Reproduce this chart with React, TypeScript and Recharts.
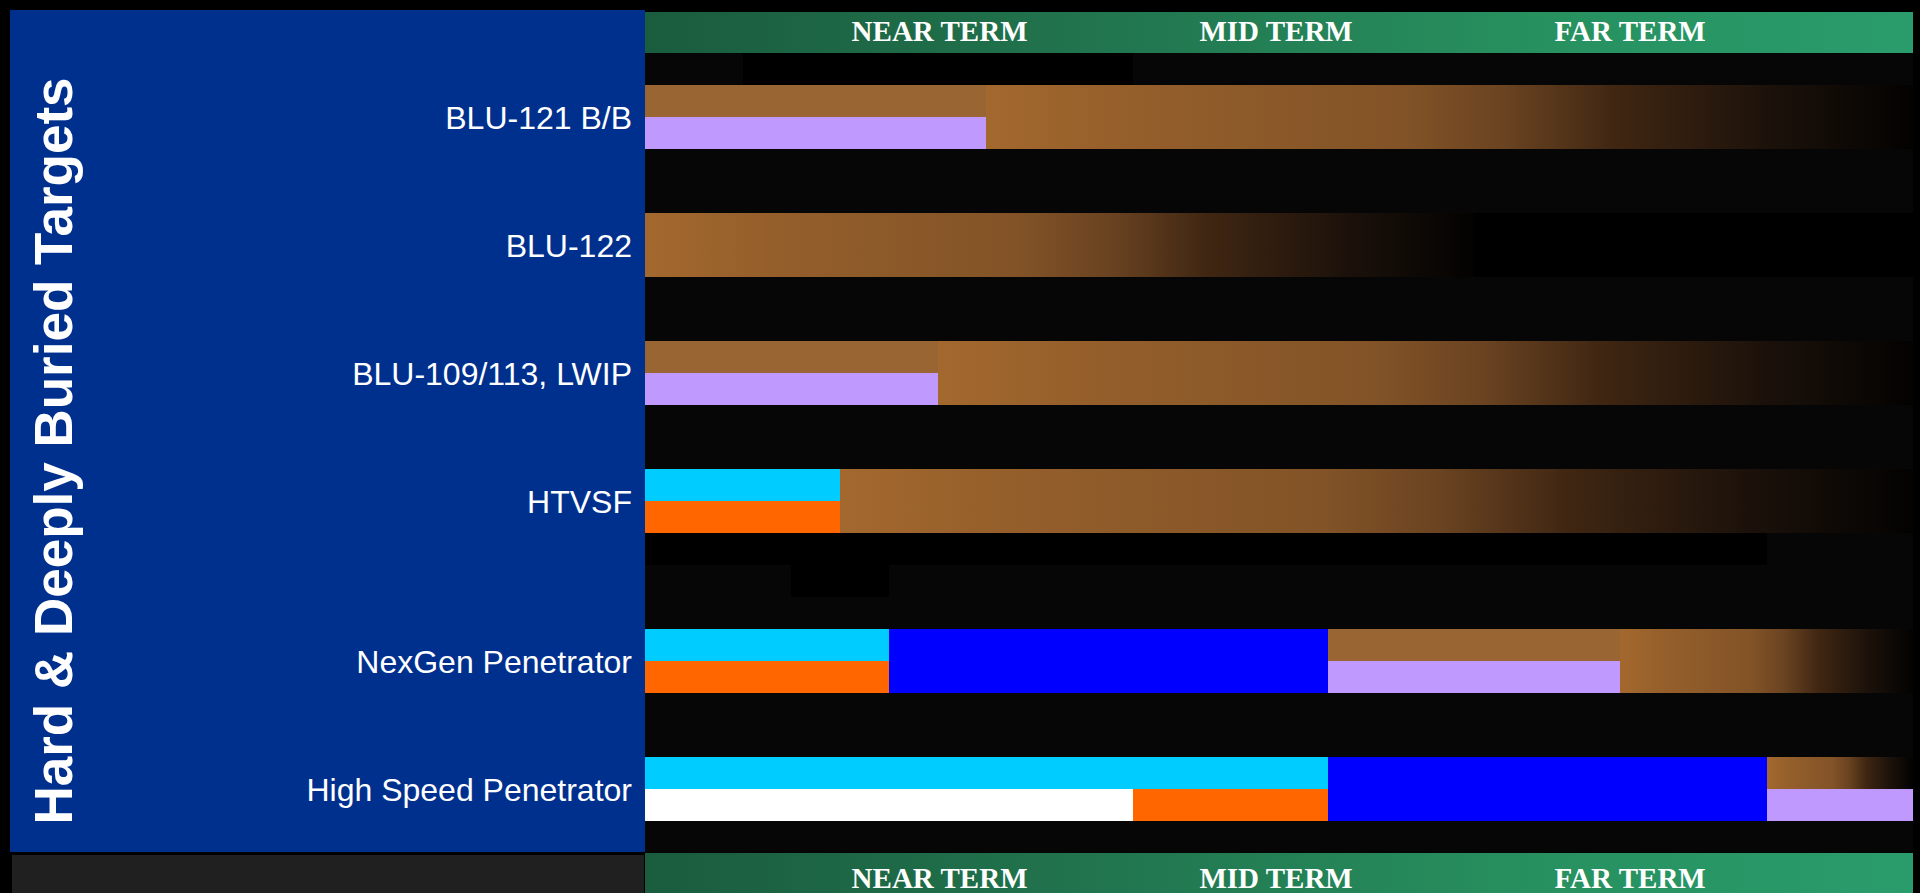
import React from "react"
import { BarChart, Bar, XAxis, YAxis, Cell } from "recharts"

// programs, one per row (each row uses two 32px lanes)
const programs = ["BLU-121 B/B", "BLU-122", "BLU-109/113, LWIP", "HTVSF", "NexGen Penetrator", "High Speed Penetrator"]
const programLanes = [1, 5, 9, 13, 18, 22]

const termLabels = ["NEAR TERM", "MID TERM", "FAR TERM"]
const termCenters = [6.04, 12.94, 20.2]

const laneCount = 25
const spanUnits = 26 // half-year steps across the timeline

type Seg = [string, number]

// segments per lane: [status, length]
const headerGhost: Seg[] = [["none", 2], ["black", 8]]
const blu121Top: Seg[] = [["brown", 7], ["fade", 19]]
const blu121Bottom: Seg[] = [["lavender", 7], ["fade", 19]]
const blu122Top: Seg[] = [["fade", 17], ["black", 9]]
const blu122Bottom: Seg[] = [["fade", 17], ["black", 9]]
const blu109Top: Seg[] = [["brown", 6], ["fade", 20]]
const blu109Bottom: Seg[] = [["lavender", 6], ["fade", 20]]
const htvsfTop: Seg[] = [["cyan", 4], ["fade", 22]]
const htvsfBottom: Seg[] = [["orange", 4], ["fade", 22]]
const gapGhostA: Seg[] = [["black", 23]]
const gapGhostB: Seg[] = [["none", 3], ["black", 2]]
const nexgenTop: Seg[] = [["cyan", 5], ["blue", 9], ["brown", 6], ["fade", 6]]
const nexgenBottom: Seg[] = [["orange", 5], ["blue", 9], ["lavender", 6], ["fade", 6]]
const hspTop: Seg[] = [["cyan", 14], ["blue", 9], ["fade", 3]]
const hspBottom: Seg[] = [["white", 10], ["orange", 4], ["blue", 9], ["lavender", 3]]

const laneSegments: Record<number, Seg[]> = {
  0: headerGhost,
  1: blu121Top,
  2: blu121Bottom,
  5: blu122Top,
  6: blu122Bottom,
  9: blu109Top,
  10: blu109Bottom,
  13: htvsfTop,
  14: htvsfBottom,
  15: gapGhostA,
  16: gapGhostB,
  18: nexgenTop,
  19: nexgenBottom,
  22: hspTop,
  23: hspBottom,
}

const statusColors: Record<string, string> = {
  none: "transparent",
  black: "#000000",
  brown: "#996633",
  fade: "url(#fade)",
  lavender: "#C099FF",
  cyan: "#00CCFF",
  orange: "#FF6600",
  blue: "#0000FF",
  white: "#FFFFFF",
}

const maxSegs = 4

const chartData = Array.from({ length: laneCount }, (_, i) => {
  const row: Record<string, any> = { lane: i }
  const segs = laneSegments[i] ?? []
  segs.forEach(([status, len], j) => {
    row[`s${j}`] = len
    row[`c${j}`] = status
  })
  return row
})

const headerGradient = "linear-gradient(to right, #1A5C3E 0%, #21744E 35%, #27905F 70%, #2A9C6C 100%)"

const TermTick = (props: any) => {
  const { x, y, payload } = props
  const idx = termCenters.indexOf(payload.value)
  return (
    <text x={x} y={y} textAnchor="middle" fill="#FFFFFF" fontFamily="'Liberation Serif', 'Times New Roman', serif" fontWeight="bold" fontSize={29}>
      {termLabels[idx] ?? ""}
    </text>
  )
}

const LaneTick = (props: any) => {
  const { x, y, payload } = props
  const idx = programLanes.indexOf(payload.value)
  if (idx < 0) return <g />
  // label sits on the border between the program's two lanes
  return (
    <text x={x} y={y + 16 + 12} textAnchor="end" fill="#FFFFFF" fontFamily="'Liberation Sans', Arial, sans-serif" fontSize={32}>
      {programs[idx]}
    </text>
  )
}

export default function App() {
  return (
    <div style={{ position: "absolute", left: 0, top: 0, width: 1920, height: 893, background: "#000", overflow: "hidden" }}>
      <div style={{ position: "absolute", left: 10, top: 10, width: 635, height: 842, background: "#00308E" }} />
      <div style={{ position: "absolute", left: 12, top: 855, width: 632, height: 38, background: "#202020" }} />
      <div style={{ position: "absolute", left: 645, top: 12, width: 1268, height: 41, background: headerGradient }} />
      <div style={{ position: "absolute", left: 645, top: 853, width: 1268, height: 40, background: headerGradient }} />
      <div style={{ position: "absolute", left: 645, top: 53, width: 1268, height: 800, background: "#060606" }} />

      <div style={{ position: "absolute", left: 0, top: 0 }}>
        <BarChart
          width={1920}
          height={893}
          layout="vertical"
          data={chartData}
          margin={{ top: 12, right: 7, bottom: 0, left: 0 }}
          barCategoryGap={0}
          barGap={0}
        >
          <defs>
            <linearGradient id="fade" x1="0" y1="0" x2="1" y2="0">
              <stop offset="0%" stopColor="#A3682E" />
              <stop offset="15%" stopColor="#955F2B" />
              <stop offset="45%" stopColor="#825327" />
              <stop offset="56%" stopColor="#6A4321" />
              <stop offset="68%" stopColor="#3F2612" />
              <stop offset="85%" stopColor="#1B110A" />
              <stop offset="100%" stopColor="#030201" />
            </linearGradient>
          </defs>
          <XAxis
            xAxisId="top"
            orientation="top"
            type="number"
            domain={[0, spanUnits]}
            ticks={termCenters}
            interval={0}
            height={41}
            axisLine={false}
            tickLine={false}
            tickSize={0}
            tickMargin={12}
            tick={<TermTick />}
            allowDataOverflow
          />
          <XAxis
            xAxisId="bottom"
            orientation="bottom"
            type="number"
            domain={[0, spanUnits]}
            ticks={termCenters}
            interval={0}
            height={40}
            axisLine={false}
            tickLine={false}
            tickSize={0}
            tickMargin={35}
            tick={<TermTick />}
            allowDataOverflow
          />
          <YAxis
            type="category"
            dataKey="lane"
            width={645}
            interval={0}
            axisLine={false}
            tickLine={false}
            tickSize={0}
            tickMargin={13}
            tick={<LaneTick />}
          />
          {Array.from({ length: maxSegs }, (_, j) => (
            <Bar key={j} dataKey={`s${j}`} stackId="a" xAxisId="top" isAnimationActive={false}>
              {chartData.map((d, i) => (
                <Cell key={`cell-${i}`} fill={statusColors[d[`c${j}`] ?? "none"]} shapeRendering="crispEdges" />
              ))}
            </Bar>
          ))}
        </BarChart>
      </div>

      <svg width={200} height={893} style={{ position: "absolute", left: 0, top: 0 }}>
        <text
          x={71.5}
          y={451}
          transform="rotate(-90 71.5 451)"
          textAnchor="middle"
          fill="#FFFFFF"
          fontFamily="'Liberation Sans', Arial, sans-serif"
          fontWeight="bold"
          fontSize={53}
        >
          Hard &amp; Deeply Buried Targets
        </text>
      </svg>
    </div>
  )
}
